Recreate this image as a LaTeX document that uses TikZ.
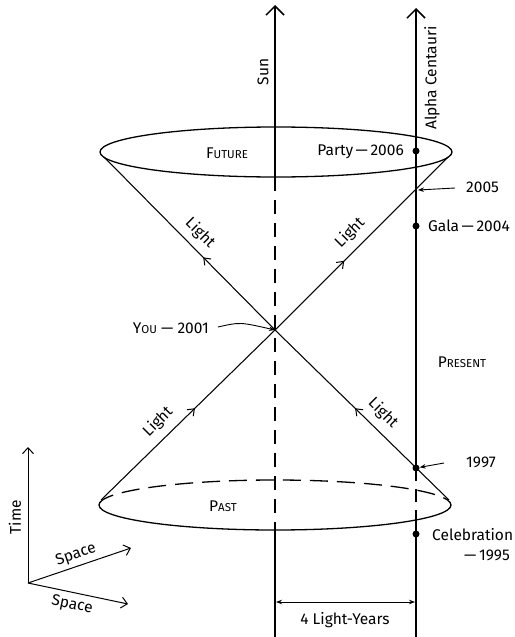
\documentclass[tikz,border=0pt]{standalone}
\usepackage{fontspec}
\setmainfont{Fira Sans}
\usetikzlibrary{arrows.meta,decorations.markings}
\newcommand{\smc}[1]{{\fontsize{11.5}{13}\selectfont #1}}
\begin{document}
\begin{tikzpicture}[x=1pt,y=-1pt,
  worldline/.style={line width=2.2pt},
  bigtip/.style={-{Straight Barb[length=9pt,width=18pt,line width=1.5pt]}},
  cone/.style={line width=1.05pt},
  rim/.style={line width=1.3pt},
  lbl/.style={font=\fontsize{15.5}{17}\selectfont, inner sep=0pt},
  sc/.style={font=\fontsize{15.5}{17}\selectfont, inner sep=0pt},
  pointer/.style={line width=0.9pt,-{Stealth[length=6pt,width=4.5pt]}},
  midarrow/.style={postaction={decorate},decoration={markings,
     mark=at position #1 with {\arrow{Straight Barb[length=6pt,width=9pt,line width=1pt]}}}},
  dotev/.style={circle,fill,inner sep=0pt,minimum size=7pt},
  axis/.style={line width=1pt,-{Straight Barb[length=6pt,width=11pt,line width=1pt]}},
  dashA/.style={dash pattern=on 14pt off 9pt},
  dashB/.style={dash pattern=on 18pt off 9pt}
]
\path[use as bounding box] (0,0) rectangle (514,637);

% coordinates
\coordinate (you) at (275,330);
\coordinate (fL) at (104,157);
\coordinate (fR) at (448,157);
\coordinate (pL) at (101,500);
\coordinate (pR) at (449,500);

% Sun world line
\coordinate (sunTop) at (275,5);
\coordinate (sunA) at (275,177);
\coordinate (sunB) at (275,530);
\coordinate (sunBot) at (275,637);
\draw[worldline,bigtip] (sunA) -- (sunTop);
\draw[worldline,dashA] (sunA) -- (sunB);
\draw[worldline] (sunB) -- (sunBot);

% Alpha Centauri world line
\coordinate (acTop) at (416,8);
\coordinate (acA) at (416,468);
\coordinate (acB) at (416,518);
\coordinate (acBot) at (416,637);
\draw[worldline,bigtip] (acA) -- (acTop);
\draw[worldline,dash pattern=on 13pt off 8pt] (acA) -- (acB);
\draw[worldline] (acB) -- (acBot);

% future ellipse
\draw[rim] (276,152) ellipse[x radius=176, y radius=25];
% past ellipse
\draw[rim] (451,505) arc[start angle=0,end angle=180,x radius=176,y radius=25];
\draw[rim,dashB] (99,505) arc[start angle=180,end angle=360,x radius=176,y radius=25];

% light cone lines
\draw[cone,midarrow=0.42] (you) -- (fL);
\draw[cone,midarrow=0.40] (you) -- (fR);
\draw[cone,midarrow=0.54] (pL) -- (you);
\draw[cone,midarrow=0.54] (pR) -- (you);

% Light labels
\node[lbl,rotate=-45] (l1) at (200,233) {Light};
\node[lbl,rotate=45] (l2) at (350,233) {Light};
\node[lbl,rotate=45] (l3) at (158,422) {Light};
\node[lbl,rotate=-45] (l4) at (383,413) {Light};

% world line labels
\node[lbl,rotate=90] (sun) at (263,72) {Sun};
\node[lbl,rotate=90] (ac) at (432,78) {Alpha Centauri};

% region labels
\node[sc] (future) at (227,153) {F\smc{UTURE}};
\node[sc] (past) at (223,506) {P\smc{AST}};
\node[sc] (present) at (462,362) {P\smc{RESENT}};

% events
\node[dotev] (party) at (416,151) {};
\node[lbl,anchor=east] (partyl) at (404,152) {Party\,—\,2006};
\coordinate (e2005) at (418,190);
\node[lbl,anchor=west] (l2005) at (466,187) {2005};
\coordinate (p2005) at (455,188);
\draw[pointer] (p2005) -- (e2005);
\node[dotev] (gala) at (416,226) {};
\node[lbl,anchor=west] (galal) at (428,226) {Gala\,—\,2004};
\node[lbl,anchor=east] (youl) at (209,328) {Y\smc{OU} — 2001};
\coordinate (pyou) at (218,327);
\draw[pointer] (pyou) .. controls (240,322) .. (you);
\node[dotev] (e1997) at (416,468) {};
\node[lbl,anchor=west] (l1997) at (466,462) {1997};
\coordinate (p1997) at (444,463);
\draw[pointer] (p1997) -- (e1997);
\node[dotev] (cel) at (416,534) {};
\node[lbl,anchor=west] (cell) at (432,535) {Celebration};
\node[lbl,anchor=east] (cell2) at (510,555) {—\,1995};

% distance
\coordinate (dL) at (276,602);
\coordinate (dR) at (415,602);
\draw[line width=0.9pt,{Stealth[length=6pt,width=4.5pt]}-{Stealth[length=6pt,width=4.5pt]}] (dL) -- (dR);
\node[lbl] (dist) at (345,620) {4 Light-Years};

% axes
\coordinate (o) at (28,583);
\coordinate (tEnd) at (28,447);
\coordinate (s1End) at (131,548);
\coordinate (s2End) at (128,604);
\draw[axis] (o) -- (tEnd);
\draw[axis] (o) -- (s1End);
\draw[axis] (o) -- (s2End);
\node[lbl,rotate=90] (time) at (15,517) {Time};
\node[lbl,rotate=19] (space1) at (76,555) {Space};
\node[lbl,rotate=-12] (space2) at (72,605) {Space};
\end{tikzpicture}
\end{document}
